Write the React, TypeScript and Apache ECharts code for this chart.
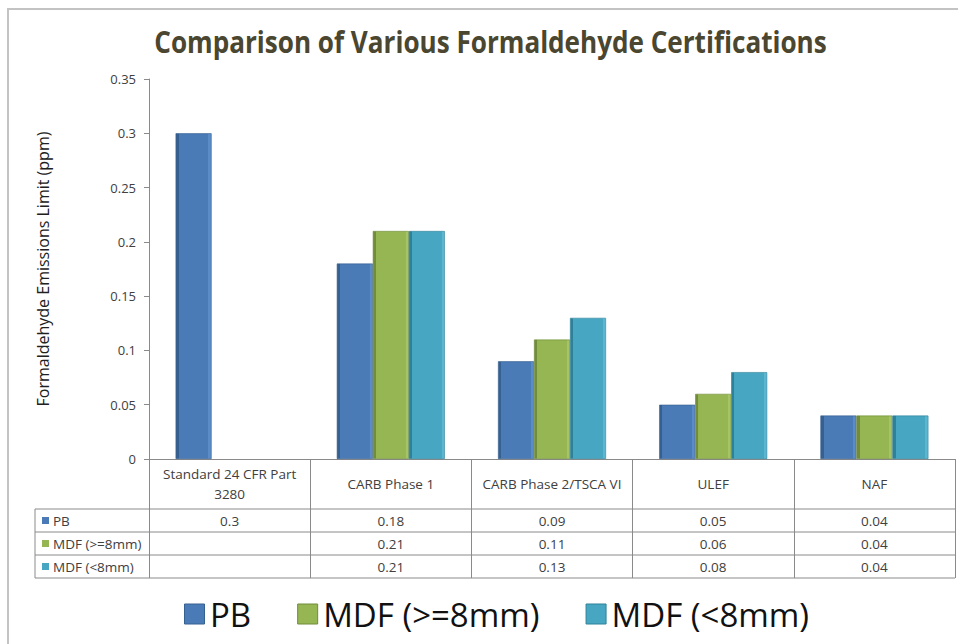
import React, { useEffect, useRef } from "react";
import * as echarts from "echarts";

const categories = ["Standard 24 CFR Part\n3280", "CARB Phase 1", "CARB Phase 2/TSCA VI", "ULEF", "NAF"];
const seriesNames = ["PB", "MDF (>=8mm)", "MDF (<8mm)"];
const pbValues: (number | null)[] = [0.3, 0.18, 0.09, 0.05, 0.04];
const mdfThickValues: (number | null)[] = [null, 0.21, 0.11, 0.06, 0.04];
const mdfThinValues: (number | null)[] = [null, 0.21, 0.13, 0.08, 0.04];
const yMin = 0;
const yMax = 0.35;
const yInterval = 0.05;

const title = "Comparison of Various Formaldehyde Certifications";
const yAxisTitle = "Formaldehyde Emissions Limit (ppm)";

const baseColors = ["#4a7bb7", "#95b652", "#47a7c2"];
const darkColors = ["#36608f", "#718c3a", "#2f8199"];
const lightColors = ["#5b8cc7", "#a6c466", "#5bb7d0"];

const FONT = "'Open Sans', sans-serif";

function barFill(i: number) {
  return new echarts.graphic.LinearGradient(0, 0, 1, 0, [
    { offset: 0, color: darkColors[i] },
    { offset: 0.08, color: darkColors[i] },
    { offset: 0.085, color: baseColors[i] },
    { offset: 0.915, color: baseColors[i] },
    { offset: 0.92, color: lightColors[i] },
    { offset: 1, color: lightColors[i] },
  ]);
}

export default function App() {
  const ref = useRef<HTMLDivElement>(null);
  useEffect(() => {
    if (!ref.current) return;
    const chart = echarts.init(ref.current, undefined, { renderer: "svg" });
    const allValues = [pbValues, mdfThickValues, mdfThinValues];
    const gridLeft = 149;
    const gridRight = 3;
    const gridTop = 79;
    const gridBottom = 185;
    const option: any = {
      animation: false,
      backgroundColor: "#ffffff",
      grid: { left: gridLeft, right: gridRight, top: gridTop, bottom: gridBottom },
      legend: {
        data: seriesNames.map((n, i) => ({
          name: n,
          itemStyle: { color: baseColors[i], borderColor: darkColors[i], borderWidth: 1 },
        })),
        left: 179,
        top: 591,
        icon: "path://M0,0H10V10H0Z",
        itemWidth: 21,
        itemHeight: 20,
        itemGap: 46,
        textStyle: { fontFamily: FONT, fontSize: 33, color: "#111111", lineHeight: 36 },
      },
      xAxis: {
        type: "category",
        data: categories,
        axisLine: { lineStyle: { color: "#8a8a8a", width: 1 } },
        axisTick: { show: true, length: 119, alignWithLabel: false, lineStyle: { color: "#8a8a8a" } },
        axisLabel: {
          margin: 25,
          verticalAlign: "middle",
          lineHeight: 20,
          fontFamily: FONT,
          fontSize: 13.5,
          color: "#404040",
          interval: 0,
        },
        splitLine: { show: false },
      },
      yAxis: {
        type: "value",
        min: yMin,
        max: yMax,
        interval: yInterval,
        axisLine: { show: true, lineStyle: { color: "#8a8a8a" } },
        axisTick: { show: true, length: 5, lineStyle: { color: "#8a8a8a" } },
        axisLabel: { margin: 13, fontFamily: FONT, fontSize: 13, color: "#404040" },
        splitLine: { show: false },
      },
      series: allValues.map((vals, i) => ({
        name: seriesNames[i],
        type: "bar",
        data: vals,
        barGap: "0%",
        barCategoryGap: "33%",
        itemStyle: { color: barFill(i), borderColor: darkColors[i], borderWidth: 0.6 },
      })),
    };
    chart.setOption(option);

    const gfx: any[] = [];
    gfx.push({
      type: "rect",
      z: -10,
      shape: { x: 8, y: 9, width: 1000, height: 700 },
      style: { fill: "none", stroke: "#c3c3c3", lineWidth: 2 },
    });
    gfx.push({
      type: "text",
      x: 490.5,
      y: 41,
      scaleX: 0.87,
      style: {
        text: title,
        fontFamily: FONT,
        fontWeight: "bold",
        fontSize: 30,
        fill: "#4a4630",
        align: "center",
        verticalAlign: "middle",
      },
    });
    gfx.push({
      type: "text",
      x: 43,
      y: 269,
      rotation: Math.PI / 2,
      style: {
        text: yAxisTitle,
        fontFamily: FONT,
        fontSize: 16,
        fill: "#202020",
        align: "center",
        verticalAlign: "middle",
      },
    });

    // data table under the plot
    const tableLeft = 35;
    const tableRight = 958 - gridRight;
    const rowLines = [509, 532, 555, 578];
    rowLines.forEach((y) => {
      gfx.push({
        type: "line",
        shape: { x1: tableLeft, y1: y, x2: tableRight, y2: y },
        style: { stroke: "#8a8a8a", lineWidth: 1 },
      });
    });
    gfx.push({
      type: "line",
      shape: { x1: tableLeft, y1: rowLines[0], x2: tableLeft, y2: rowLines[rowLines.length - 1] },
      style: { stroke: "#8a8a8a", lineWidth: 1 },
    });
    seriesNames.forEach((name, r) => {
      const cy = (rowLines[r] + rowLines[r + 1]) / 2;
      gfx.push({
        type: "rect",
        shape: { x: 42, y: cy - 3.5, width: 7, height: 7 },
        style: { fill: baseColors[r] },
      });
      gfx.push({
        type: "text",
        x: 53,
        y: cy,
        style: { text: name, fontFamily: FONT, fontSize: 13.5, fill: "#404040", align: "left", verticalAlign: "middle" },
      });
      allValues[r].forEach((v, c) => {
        if (v === null) return;
        const cx = chart.convertToPixel({ xAxisIndex: 0 }, c) as number;
        gfx.push({
          type: "text",
          x: cx,
          y: cy,
          style: { text: String(v), fontFamily: FONT, fontSize: 13.5, fill: "#404040", align: "center", verticalAlign: "middle" },
        });
      });
    });
    chart.setOption({ graphic: gfx });

    return () => chart.dispose();
  }, []);
  return <div ref={ref} style={{ position: "fixed", left: 0, top: 0, width: 958, height: 644 }} />;
}
